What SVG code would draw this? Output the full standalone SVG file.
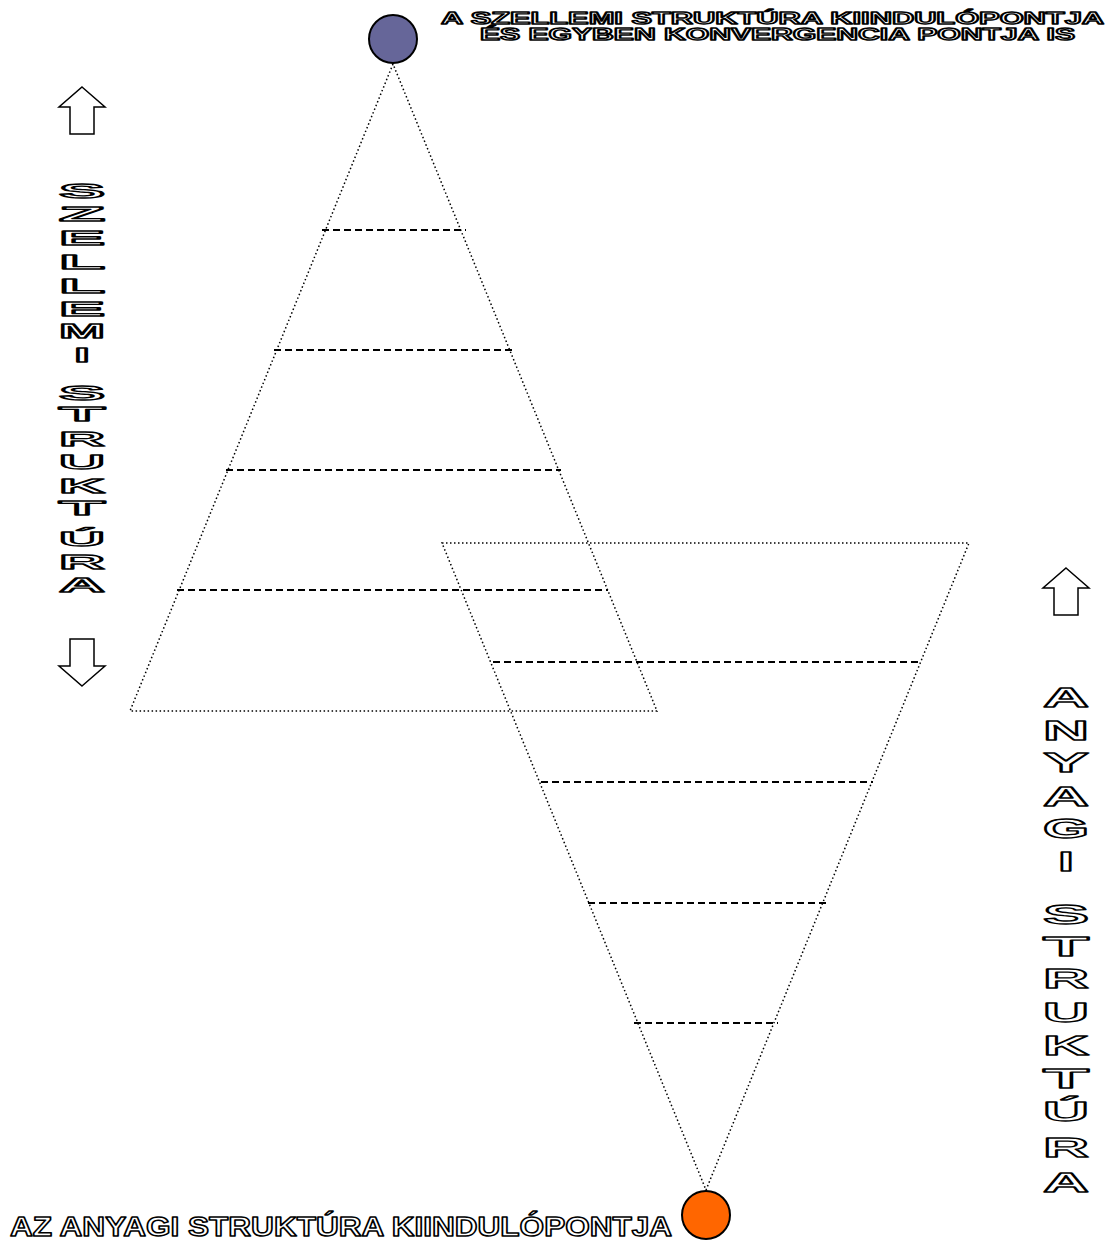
<svg xmlns="http://www.w3.org/2000/svg" width="1107" height="1240" viewBox="0 0 1107 1240">
<style>
.dot{fill:none;stroke:#000;stroke-width:1.5;stroke-dasharray:1.5 2.5}
.dash{fill:none;stroke:#000;stroke-width:2;stroke-dasharray:7 4}
.ol{font-family:"Liberation Sans",Arial,sans-serif;font-weight:bold;fill:#fff;stroke:#000;stroke-width:1.3;stroke-linejoin:round}
.vl{font-size:20px}
.vr{font-size:27px}
.arrow{fill:#fff;stroke:#000;stroke-width:1.5;stroke-linejoin:miter}
</style>
<rect width="1107" height="1240" fill="#fff"/>
<g id="connectors">
<polygon class="dot" points="393,64 130,711 657,711"/>
<polygon class="dot" points="442,543 969,543 706,1190"/>
<line class="dash" x1="322" y1="230" x2="466" y2="230"/>
<line class="dash" x1="274" y1="350" x2="514" y2="350"/>
<line class="dash" x1="226" y1="470" x2="561" y2="470"/>
<line class="dash" x1="177" y1="590" x2="608" y2="590"/>
<line class="dash" x1="493" y1="662" x2="922" y2="662"/>
<line class="dash" x1="541" y1="782" x2="873" y2="782"/>
<line class="dash" x1="588" y1="903" x2="826" y2="903"/>
<line class="dash" x1="634" y1="1023" x2="778" y2="1023"/>
</g>
<g id="top-node">
<circle cx="393" cy="39" r="24" fill="#666699" stroke="#000" stroke-width="2"/>
</g>
<g id="bottom-node">
<circle cx="706" cy="1215" r="24" fill="#FF6600" stroke="#000" stroke-width="2"/>
</g>
<g id="top-label" class="ol" style="stroke-width:1.4">
<text x="441" y="24" font-size="16" textLength="663" lengthAdjust="spacingAndGlyphs">A SZELLEMI STRUKTÚRA KIINDULÓPONTJA</text>
<text x="480" y="40" font-size="16" textLength="595" lengthAdjust="spacingAndGlyphs">ÉS EGYBEN KONVERGENCIA PONTJA IS</text>
</g>
<g id="bottom-label" class="ol" style="stroke-width:1.5">
<text x="10" y="1236" font-size="27" textLength="662" lengthAdjust="spacingAndGlyphs">AZ ANYAGI STRUKTÚRA KIINDULÓPONTJA</text>
</g>
<g id="left-arrows">
<polygon class="arrow" points="82,87 105,107 94,107 94,134 70,134 70,107 59,107"/>
<polygon class="arrow" points="82,686 105,666 94,666 94,639 70,639 70,666 59,666"/>
</g>
<g id="right-arrow">
<polygon class="arrow" points="1066,568 1089,588 1078,588 1078,615 1054,615 1054,588 1043,588"/>
</g>
<g id="left-label" class="ol vl">
<text x="59" y="198" textLength="46" lengthAdjust="spacingAndGlyphs">S</text>
<text x="59" y="221" textLength="46" lengthAdjust="spacingAndGlyphs">Z</text>
<text x="59" y="245" textLength="46" lengthAdjust="spacingAndGlyphs">E</text>
<text x="59" y="269" textLength="46" lengthAdjust="spacingAndGlyphs">L</text>
<text x="59" y="293" textLength="46" lengthAdjust="spacingAndGlyphs">L</text>
<text x="59" y="316" textLength="46" lengthAdjust="spacingAndGlyphs">E</text>
<text x="59" y="338" textLength="46" lengthAdjust="spacingAndGlyphs">M</text>
<text x="74" y="362" textLength="16" lengthAdjust="spacingAndGlyphs">I</text>
<text x="59" y="400" textLength="46" lengthAdjust="spacingAndGlyphs">S</text>
<text x="59" y="421" textLength="46" lengthAdjust="spacingAndGlyphs">T</text>
<text x="59" y="446" textLength="46" lengthAdjust="spacingAndGlyphs">R</text>
<text x="59" y="469" textLength="46" lengthAdjust="spacingAndGlyphs">U</text>
<text x="59" y="493" textLength="46" lengthAdjust="spacingAndGlyphs">K</text>
<text x="59" y="515" textLength="46" lengthAdjust="spacingAndGlyphs">T</text>
<text x="59" y="546" textLength="46" lengthAdjust="spacingAndGlyphs">Ú</text>
<text x="59" y="569" textLength="46" lengthAdjust="spacingAndGlyphs">R</text>
<text x="59" y="592" textLength="46" lengthAdjust="spacingAndGlyphs">A</text>
</g>
<g id="right-label" class="ol vr">
<text x="1043" y="707" textLength="46" lengthAdjust="spacingAndGlyphs">A</text>
<text x="1043" y="740" textLength="46" lengthAdjust="spacingAndGlyphs">N</text>
<text x="1043" y="772" textLength="46" lengthAdjust="spacingAndGlyphs">Y</text>
<text x="1043" y="806" textLength="46" lengthAdjust="spacingAndGlyphs">A</text>
<text x="1043" y="838" textLength="46" lengthAdjust="spacingAndGlyphs">G</text>
<text x="1058" y="871" textLength="16" lengthAdjust="spacingAndGlyphs">I</text>
<text x="1043" y="924" textLength="46" lengthAdjust="spacingAndGlyphs">S</text>
<text x="1043" y="956" textLength="46" lengthAdjust="spacingAndGlyphs">T</text>
<text x="1043" y="988" textLength="46" lengthAdjust="spacingAndGlyphs">R</text>
<text x="1043" y="1022" textLength="46" lengthAdjust="spacingAndGlyphs">U</text>
<text x="1043" y="1055" textLength="46" lengthAdjust="spacingAndGlyphs">K</text>
<text x="1043" y="1088" textLength="46" lengthAdjust="spacingAndGlyphs">T</text>
<text x="1043" y="1121" textLength="46" lengthAdjust="spacingAndGlyphs">Ú</text>
<text x="1043" y="1157" textLength="46" lengthAdjust="spacingAndGlyphs">R</text>
<text x="1043" y="1192" textLength="46" lengthAdjust="spacingAndGlyphs">A</text>
</g>
</svg>
